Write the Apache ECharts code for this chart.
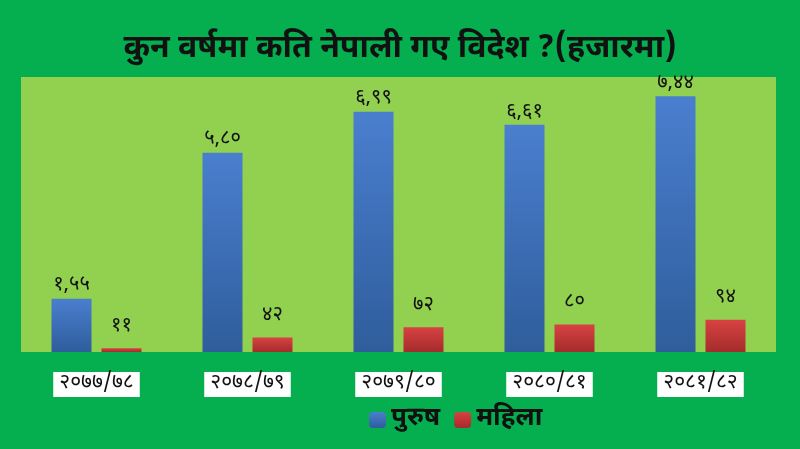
<!DOCTYPE html>
<html>
<head>
<meta charset="utf-8">
<title>कुन वर्षमा कति नेपाली गए विदेश</title>
<script src="https://cdn.jsdelivr.net/npm/echarts@6/dist/echarts.min.js"></script>
<style>
  html, body { margin: 0; padding: 0; background: #05ae4f; }
  #chart { width: 800px; height: 449px; }
</style>
</head>
<body>
<div id="chart"></div>
<script>
// fiscal years
const years = ['२०७७/७८', '२०७८/७९', '२०७९/८०', '२०८०/८१', '२०८१/८२']
// values in lakh (hundred thousand)
const male = [1.55, 5.80, 6.99, 6.61, 7.44]
const female = [0.11, 0.42, 0.72, 0.80, 0.94]
// labels as printed on the bars
const maleLabels = ['१,५५', '५,८०', '६,९९', '६,६१', '७,४४']
const femaleLabels = ['११', '४२', '७२', '८०', '९४']

const FONT = '"Noto Sans Devanagari", "Lohit Devanagari", "Noto Sans", sans-serif'

const chart = echarts.init(document.getElementById('chart'))

chart.setOption({
  backgroundColor: '#05ae4f',
  textStyle: { fontFamily: FONT },
  title: {
    text: 'कुन वर्षमा कति नेपाली गए विदेश ?(हजारमा)',
    left: 'center',
    top: 30,
    textStyle: { fontFamily: FONT, fontSize: 32, fontWeight: 'bold', color: '#111' }
  },
  legend: {
    top: 402,
    left: 364,
    itemWidth: 17,
    itemHeight: 16,
    itemGap: 14,
    textStyle: { fontFamily: FONT, fontSize: 26, fontWeight: 'bold', color: '#111' }
  },
  grid: { left: 21, right: 24, top: 77, bottom: 97, backgroundColor: '#92d050', show: true, borderWidth: 0 },
  xAxis: {
    type: 'category',
    data: years,
    axisLine: { show: false },
    axisTick: { show: false },
    axisLabel: {
      margin: 20,
      fontFamily: FONT,
      fontSize: 21,
      color: '#111',
      backgroundColor: '#fff',
      padding: [2, 6, 2, 6]
    }
  },
  yAxis: {
    type: 'value',
    min: 0,
    max: 8,
    show: false,
    splitLine: { show: false }
  },
  series: [
    {
      name: 'पुरुष',
      type: 'bar',
      data: male,
      barWidth: 40,
      barGap: '25%',
      itemStyle: {
        color: new echarts.graphic.LinearGradient(0, 0, 0, 1, [
          { offset: 0, color: '#4a7fcf' },
          { offset: 1, color: '#2f5d9c' }
        ])
      },
      label: {
        show: true,
        position: 'top',
        distance: 2,
        fontFamily: FONT,
        fontSize: 20,
        color: '#111',
        formatter: p => maleLabels[p.dataIndex]
      }
    },
    {
      name: 'महिला',
      type: 'bar',
      data: female,
      barWidth: 40,
      itemStyle: {
        color: new echarts.graphic.LinearGradient(0, 0, 0, 1, [
          { offset: 0, color: '#d84242' },
          { offset: 1, color: '#a52b2b' }
        ])
      },
      label: {
        show: true,
        position: 'top',
        distance: 11,
        fontFamily: FONT,
        fontSize: 20,
        color: '#111',
        formatter: p => femaleLabels[p.dataIndex]
      }
    }
  ]
})
</script>
</body>
</html>
